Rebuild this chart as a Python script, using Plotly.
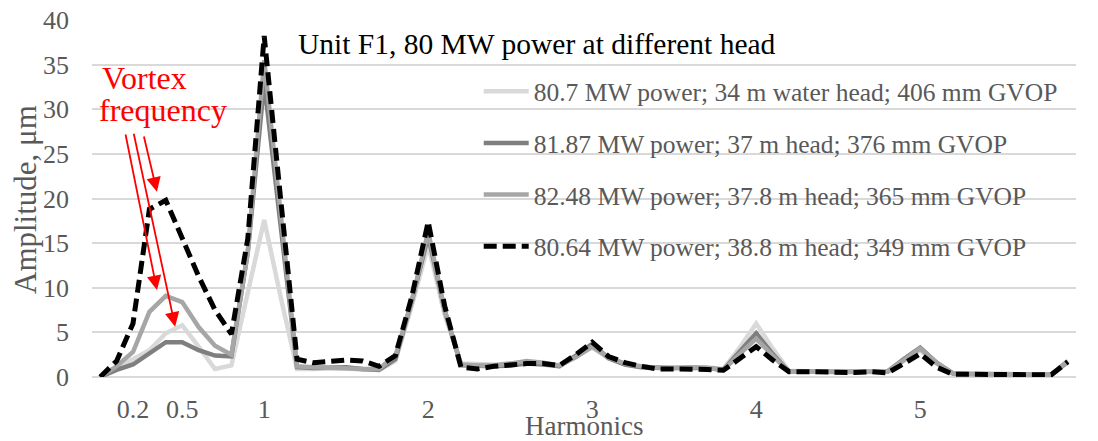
import plotly.graph_objects as go

# ---------------- data ----------------
harmonics = [0.0, 0.1, 0.2, 0.3, 0.4, 0.5, 0.6, 0.7, 0.8, 0.9,
             1.0, 1.1, 1.2, 1.3, 1.4, 1.5, 1.6, 1.7, 1.8, 1.9,
             2.0, 2.1, 2.2, 2.3, 2.4, 2.5, 2.6, 2.7, 2.8, 2.9,
             3.0, 3.1, 3.2, 3.3, 3.4, 3.5, 3.6, 3.7, 3.8, 3.9,
             4.0, 4.1, 4.2, 4.3, 4.4, 4.5, 4.6, 4.7, 4.8, 4.9,
             5.0, 5.1, 5.2, 5.3, 5.4, 5.5, 5.6, 5.7, 5.8, 5.9]

tick_values = [0.2, 0.5, 1, 2, 3, 4, 5]
tick_labels = ["0.2", "0.5", "1", "2", "3", "4", "5"]

# 80.7 MW power; 34 m water head; 406 mm GVOP
amp_34m = [0.0, 1.0, 1.9, 3.0, 4.9, 5.8, 3.4, 0.9, 1.3, 9.4,
           17.6, 9.0, 0.9, 0.9, 0.9, 1.0, 0.8, 0.8, 1.8, 8.0,
           14.8, 7.0, 1.5, 1.4, 1.4, 1.5, 1.7, 1.6, 1.2, 2.3,
           3.3, 2.1, 1.4, 1.1, 1.0, 1.0, 1.1, 1.1, 0.9, 3.3,
           6.0, 3.2, 0.7, 0.7, 0.6, 0.5, 0.5, 0.6, 0.6, 1.8,
           3.0, 1.5, 0.4, 0.35, 0.35, 0.35, 0.35, 0.35, 0.3, 1.6]

# 81.87 MW power; 37 m head; 376 mm GVOP
amp_37m = [0.0, 0.8, 1.4, 2.7, 3.9, 3.9, 3.0, 2.4, 2.3, 14.0,
           33.0, 17.0, 1.1, 1.0, 1.0, 1.1, 0.9, 0.8, 2.0, 8.5,
           15.8, 7.5, 1.3, 1.2, 1.2, 1.3, 1.5, 1.4, 1.2, 2.4,
           3.7, 2.1, 1.4, 1.1, 1.0, 1.0, 1.0, 1.0, 0.8, 2.8,
           4.9, 2.6, 0.6, 0.6, 0.6, 0.5, 0.5, 0.6, 0.6, 2.0,
           3.3, 1.6, 0.4, 0.35, 0.35, 0.35, 0.35, 0.35, 0.3, 1.7]

# 82.48 MW power; 37.8 m head; 365 mm GVOP
amp_378m = [0.0, 1.2, 2.8, 7.3, 9.1, 8.4, 5.6, 3.5, 2.5, 14.0,
            35.5, 18.0, 1.2, 1.1, 1.0, 1.0, 0.9, 0.9, 2.4, 8.5,
            16.3, 7.5, 1.4, 1.3, 1.3, 1.5, 1.8, 1.6, 1.3, 2.2,
            3.4, 2.2, 1.5, 1.2, 1.0, 1.0, 1.1, 1.0, 0.8, 2.6,
            4.3, 2.4, 0.6, 0.6, 0.6, 0.5, 0.5, 0.6, 0.6, 1.9,
            3.2, 1.6, 0.4, 0.35, 0.35, 0.35, 0.35, 0.35, 0.3, 1.8]

# 80.64 MW power; 38.8 m head; 349 mm GVOP
amp_388m = [0.0, 1.8, 6.0, 18.8, 19.8, 15.5, 11.3, 7.5, 4.8, 15.5,
            38.2, 20.0, 2.0, 1.6, 1.7, 1.9, 1.8, 1.2, 2.4, 9.0,
            17.4, 8.0, 1.1, 0.9, 1.2, 1.4, 1.5, 1.5, 1.3, 2.5,
            3.9, 2.3, 1.6, 1.2, 0.9, 0.9, 0.9, 0.85, 0.75, 2.1,
            3.4, 1.9, 0.6, 0.6, 0.55, 0.45, 0.5, 0.6, 0.45, 1.5,
            2.6, 1.1, 0.3, 0.3, 0.3, 0.3, 0.3, 0.3, 0.25, 1.7]

series_names = [
    "80.7 MW power; 34 m water head; 406 mm GVOP",
    "81.87 MW power; 37 m head; 376 mm GVOP",
    "82.48 MW power; 37.8 m head; 365 mm GVOP",
    "80.64 MW power; 38.8 m head; 349 mm GVOP",
]
series_values = [amp_34m, amp_37m, amp_378m, amp_388m]

chart_title = "Unit F1, 80 MW power at different head"
x_title = "Harmonics"
y_title = "Amplitude, μm"

# ---------------- styling ----------------
FONT = "Liberation Serif"
TXT = "#595959"
styles = [
    dict(color="#d9d9d9", width=4.5),
    dict(color="#7f7f7f", width=4.5),
    dict(color="#a6a6a6", width=4.5),
    dict(color="#000000", width=5, dash="13px,6px"),
]

fig = go.Figure()
for i, (name, vals) in enumerate(zip(series_names, series_values)):
    fig.add_trace(go.Scatter(
        x=harmonics, y=vals, name=name, mode="lines",
        line=styles[i], legendgroup=f"g{i}",
    ))

# the page body adds an 8px offset; figure is sized to fit inside the window
fig.update_layout(
    width=1090, height=433,
    margin=dict(l=84, r=22, t=12, b=64),
    plot_bgcolor="white", paper_bgcolor="white",
    font=dict(family=FONT, color=TXT),
    showlegend=True,
    legend=dict(
        x=0.393, y=0.865, xanchor="left", yanchor="top",
        bgcolor="rgba(0,0,0,0)",
        font=dict(family=FONT, size=25.5, color=TXT),
        tracegroupgap=15.5, itemwidth=45,
    ),
    xaxis=dict(
        range=[-0.05, 5.95], tickmode="array",
        tickvals=tick_values, ticktext=tick_labels,
        showgrid=False, zeroline=False, showline=False, ticks="",
        tickfont=dict(family=FONT, size=26, color=TXT),
        ticklabelstandoff=14, automargin=False,
        ticklabeloverflow="allow",
    ),
    yaxis=dict(
        range=[0, 40], dtick=5, tick0=0,
        showgrid=True, gridcolor="#d9d9d9", gridwidth=1.5,
        zeroline=True, zerolinecolor="#d9d9d9", zerolinewidth=1.5,
        showline=False, ticks="",
        tickfont=dict(family=FONT, size=26, color=TXT),
        ticklabelstandoff=22, automargin=False,
        ticklabeloverflow="allow",
    ),
)

annotations = [
    dict(text=chart_title, xref="paper", yref="paper",
         x=(537 - 92) / 984, y=1 - (44 - 20) / 357,
         xanchor="center", yanchor="middle", showarrow=False,
         font=dict(family=FONT, size=29.5, color="#000000")),
    dict(text=x_title, xref="paper", yref="paper",
         x=0.5, y=-(426 - 377) / 357,
         xanchor="center", yanchor="middle", showarrow=False,
         font=dict(family=FONT, size=27, color=TXT)),
    dict(text=y_title, xref="paper", yref="paper",
         x=-(92 - 25) / 984, y=1 - (200 - 20) / 357,
         xanchor="center", yanchor="middle", showarrow=False, textangle=-90,
         font=dict(family=FONT, size=31, color=TXT)),
    dict(text="Vortex", xref="paper", yref="paper",
         x=(100 - 92) / 984, y=1 - (78 - 20) / 357,
         xanchor="left", yanchor="middle", showarrow=False,
         font=dict(family=FONT, size=32, color="#ff0000")),
    dict(text="frequency", xref="paper", yref="paper",
         x=(97 - 92) / 984, y=1 - (110 - 20) / 357,
         xanchor="left", yanchor="middle", showarrow=False,
         font=dict(family=FONT, size=32, color="#ff0000")),
]
# arrows: tip in data coords, tail offset in px
arrows = [
    (0.346, 9.75, -31.7, -157.0),
    (0.457, 5.64, -41.7, -194.4),
    (0.346, 20.76, -13.4, -56.7),
]
for (xt, yt, ax, ay) in arrows:
    annotations.append(dict(
        x=xt, y=yt, xref="x", yref="y", ax=ax, ay=ay, text="",
        showarrow=True, arrowhead=2, arrowsize=1.6, arrowwidth=1.8,
        arrowcolor="#ff0000", standoff=0, startstandoff=0,
    ))
fig.update_layout(annotations=annotations)

fig.write_html("out.html")
